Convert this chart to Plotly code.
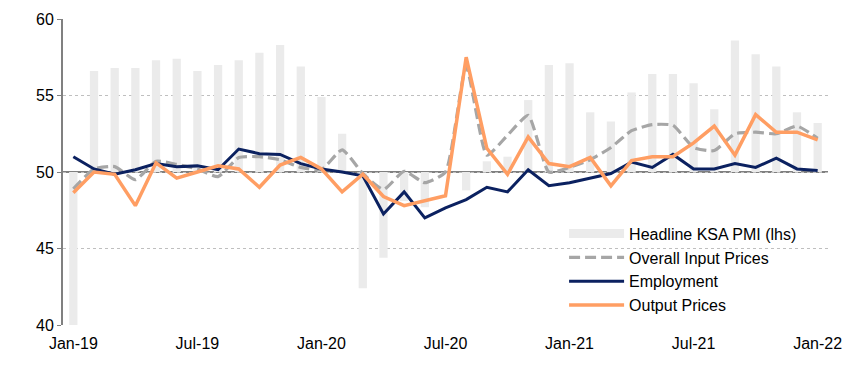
import plotly.graph_objects as go

months = ["Jan-19","Feb-19","Mar-19","Apr-19","May-19","Jun-19","Jul-19","Aug-19","Sep-19","Oct-19","Nov-19","Dec-19",
          "Jan-20","Feb-20","Mar-20","Apr-20","May-20","Jun-20","Jul-20","Aug-20","Sep-20","Oct-20","Nov-20","Dec-20",
          "Jan-21","Feb-21","Mar-21","Apr-21","May-21","Jun-21","Jul-21","Aug-21","Sep-21","Oct-21","Nov-21","Dec-21",
          "Jan-22"]

headline_pmi = [40.0, 56.6, 56.8, 56.8, 57.3, 57.4, 56.6, 57.0, 57.3, 57.8, 58.3, 56.9,
                54.9, 52.5, 42.4, 44.4, 48.1, 47.7, 50.0, 48.8, 50.7, 51.0, 54.7, 57.0,
                57.1, 53.9, 53.3, 55.2, 56.4, 56.4, 55.8, 54.1, 58.6, 57.7, 56.9, 53.9,
                53.2]

input_prices = [48.9, 50.2, 50.35, 49.5, 50.7, 50.5, 50.2, 49.7, 50.95, 51.0, 50.8, 50.3,
                50.15, 51.45, 49.9, 48.85, 50.05, 49.3, 50.0, 56.9, 51.1, 52.4, 53.7, 50.0,
                50.3, 50.8, 51.6, 52.7, 53.1, 53.05, 51.6, 51.4, 52.5, 52.6, 52.5, 53.0,
                52.2]

employment = [51.0, 50.2, 49.85, 50.15, 50.55, 50.35, 50.4, 50.15, 51.5, 51.2, 51.15, 50.55,
              50.2, 50.0, 49.75, 47.25, 48.7, 47.0, 47.65, 48.2, 49.0, 48.7, 50.15, 49.1,
              49.3, 49.6, 49.9, 50.65, 50.3, 51.15, 50.2, 50.2, 50.55, 50.3, 50.9, 50.2,
              50.1]

output_prices = [48.65, 50.0, 49.85, 47.8, 50.6, 49.6, 50.0, 50.4, 50.2, 49.0, 50.45, 50.95,
                 50.2, 48.7, 49.85, 48.4, 47.8, 48.1, 48.45, 57.5, 51.55, 49.85, 52.3, 50.55,
                 50.35, 50.95, 49.1, 50.75, 51.0, 51.0, 51.9, 53.0, 51.1, 53.75, 52.6, 52.6,
                 52.1]

tick_labels = ["Jan-19", "Jul-19", "Jan-20", "Jul-20", "Jan-21", "Jul-21", "Jan-22"]
y_ticks = [40, 45, 50, 55, 60]
BASE = 50

FONT = "Liberation Sans, Arial, sans-serif"
BAR_C = "#EBEBEB"
GREY_C = "#A6A6A6"
NAVY_C = "#0B2160"
ORANGE_C = "#FF9E63"

fig = go.Figure()

fig.add_trace(go.Bar(
    x=months, y=[v - BASE for v in headline_pmi], base=BASE,
    marker=dict(color=BAR_C, line=dict(width=0)), width=0.4,
    showlegend=False, name="Headline KSA PMI (lhs)"))

# legend entry for the bars (wide swatch)
fig.add_trace(go.Scatter(
    x=[None], y=[None], mode="lines", name="Headline KSA PMI (lhs)",
    line=dict(color=BAR_C, width=9), legendrank=1))

fig.add_trace(go.Scatter(
    x=months, y=input_prices, mode="lines", name="Overall Input Prices",
    line=dict(color=GREY_C, width=3.2, dash="11px,5px", shape="spline", smoothing=0.5),
    legendrank=2))

fig.add_trace(go.Scatter(
    x=months, y=employment, mode="lines", name="Employment",
    line=dict(color=NAVY_C, width=3), legendrank=3))

fig.add_trace(go.Scatter(
    x=months, y=output_prices, mode="lines", name="Output Prices",
    line=dict(color=ORANGE_C, width=3.5), legendrank=4))

# horizontal axis line at 50
fig.add_shape(type="line", xref="paper", yref="y", x0=0, x1=1, y0=BASE, y1=BASE,
              line=dict(color="#808080", width=2), layer="below")

fig.update_layout(
    width=847, height=367,
    margin=dict(l=55, r=27, t=11, b=50, autoexpand=False),
    paper_bgcolor="white", plot_bgcolor="white",
    font=dict(family=FONT, size=16, color="#000000"),
    legend=dict(x=0.655, y=0.354, xanchor="left", yanchor="top",
                bgcolor="rgba(0,0,0,0)", font=dict(size=16, color="#000000"),
                itemwidth=55, tracegroupgap=0, traceorder="normal"),
    xaxis=dict(type="category", categoryorder="array", categoryarray=months,
               range=[-0.5, len(months) - 0.5], automargin=False,
               tickmode="array", tickvals=tick_labels, ticktext=tick_labels,
               showgrid=False, showline=False, ticks="", zeroline=False,
               ticklabelstandoff=7,
               tickfont=dict(size=16, color="#000000")),
    yaxis=dict(range=[40, 60], tickmode="array", tickvals=y_ticks, automargin=False,
               showgrid=True, gridcolor="#BFBFBF", griddash="dot", gridwidth=1,
               showline=True, linecolor="#808080", linewidth=2,
               ticks="outside", ticklen=4, tickcolor="#808080", tickwidth=1,
               zeroline=False, tickfont=dict(size=16, color="#000000")),
)

fig.write_html("out.html")
